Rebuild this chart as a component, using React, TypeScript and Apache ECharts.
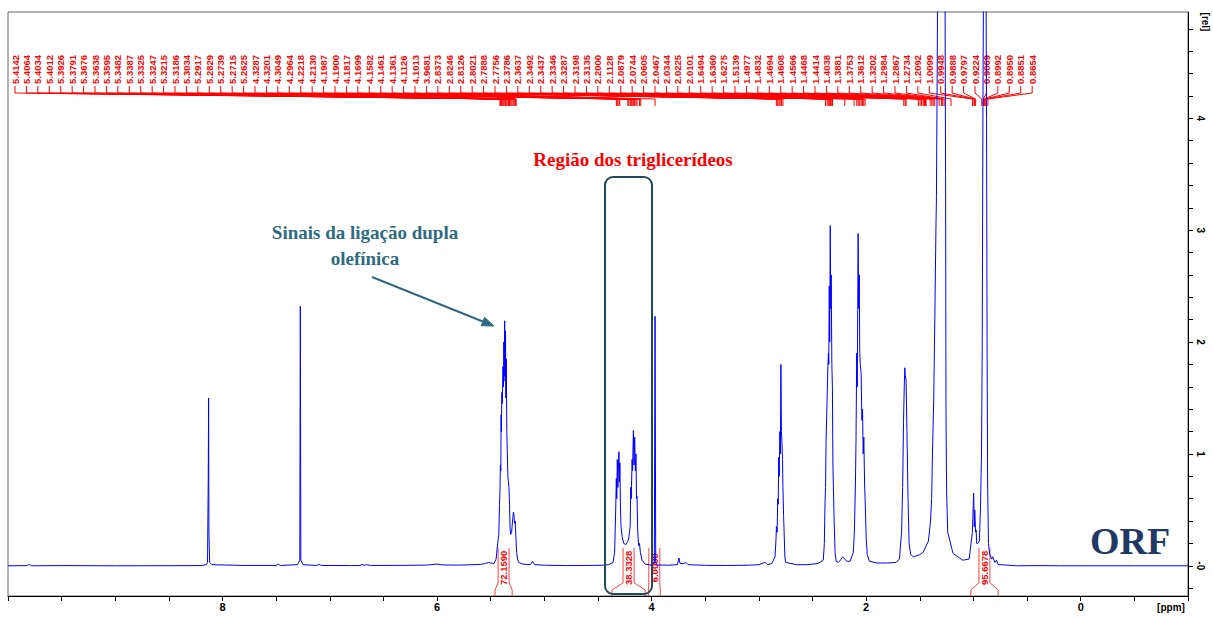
import React, { useEffect, useRef } from 'react';
import * as echarts from 'echarts';

// ---- axis ticks ----
const X_TICK_LABELS = [0, 2, 4, 6, 8];
const Y_TICKS = [-0.2, 0, 0.2, 0.4, 0.6, 0.8, 1, 1.2, 1.4, 1.6, 1.8, 2, 2.2, 2.4, 2.6, 2.8, 3, 3.2, 3.4, 3.6, 3.8, 4, 4.2, 4.4, 4.6, 4.8];
const Y_TICK_LABELS = [0, 1, 2, 3, 4];

// ---- peak picking list (ppm) ----
const PEAK_LIST = [
  5.4142, 5.4064, 5.4034, 5.4012, 5.3926, 5.3791, 5.3676, 5.3638, 5.3595, 5.3482,
  5.3387, 5.3325, 5.3247, 5.3215, 5.3186, 5.3034, 5.2917, 5.2829, 5.2739, 5.2715,
  5.2625, 4.3287, 4.3201, 4.3049, 4.2964, 4.2218, 4.2130, 4.1987, 4.1900, 4.1817,
  4.1699, 4.1582, 4.1461, 4.1361, 4.1126, 4.1013, 3.9681, 2.8373, 2.8246, 2.8126,
  2.8021, 2.7888, 2.7756, 2.3786, 2.3637, 2.3492, 2.3437, 2.3346, 2.3287, 2.3198,
  2.3135, 2.2000, 2.1128, 2.0879, 2.0744, 2.0605, 2.0467, 2.0344, 2.0225, 2.0101,
  1.6494, 1.6360, 1.6275, 1.5139, 1.4977, 1.4832, 1.4694, 1.4608, 1.4566, 1.4468,
  1.4414, 1.4038, 1.3881, 1.3753, 1.3612, 1.3202, 1.2984, 1.2867, 1.2734, 1.2092,
  1.0099, 0.9948, 0.9888, 0.9797, 0.9224, 0.9069, 0.8992, 0.8950, 0.8851, 0.8654,
];

// ---- integrals ----
const INTEGRAL_FROM = [5.46, 4.37, 4.03, 1.025];
const INTEGRAL_TO = [5.30, 4.06, 3.92, 0.77];
const INTEGRAL_VALUES = ['72.1590', '38.3328', '6.0000', '95.6678'];

// ---- spectrum [ppm, rel. intensity] ----
const SPECTRUM: [number, number][] = [
  [10.0, 0], [9.82, 0.002], [9.80, 0.012], [9.78, 0.0], [9.5, 0.002], [9.0, 0.0], [8.5, 0.001], [8.2, 0.002],
  [8.15, 0.01], [8.14, 0.03], [8.133, 0.8], [8.13, 1.5], [8.127, 0.3], [8.12, 0.03], [8.10, 0.01],
  [7.8, 0.003], [7.5, 0.003], [7.48, 0.015], [7.46, 0.003], [7.3, 0.01], [7.28, 0.05], [7.275, 2.32],
  [7.27, 0.05], [7.25, 0.01], [7.12, 0.003], [7.10, 0.014], [7.08, 0.003], [6.8, 0.002],
  [6.72, 0.002], [6.70, 0.012], [6.68, 0.004], [6.66, 0.01], [6.62, 0.003], [6.3, 0.004], [6.1, 0.006],
  [6.0, 0.015], [5.95, 0.008], [5.8, 0.006], [5.6, 0.012], [5.55, 0.02], [5.52, 0.03], [5.50, 0.025],
  [5.47, 0.02], [5.45, 0.06], [5.435, 0.2], [5.425, 0.28], [5.418, 0.55], [5.414, 0.65], [5.41, 0.9],
  [5.406, 0.85], [5.403, 1.35], [5.401, 1.2], [5.396, 1.55], [5.392, 1.45], [5.386, 1.78], [5.381, 1.6],
  [5.378, 2.0], [5.374, 1.7], [5.370, 2.19], [5.366, 1.65], [5.362, 2.1], [5.359, 1.5], [5.355, 1.85],
  [5.35, 1.2], [5.345, 1.0], [5.34, 0.8], [5.335, 0.75], [5.33, 0.7], [5.325, 0.55], [5.32, 0.35],
  [5.315, 0.28], [5.305, 0.3], [5.295, 0.42], [5.288, 0.48], [5.283, 0.45], [5.278, 0.38], [5.272, 0.4],
  [5.265, 0.25], [5.258, 0.12], [5.25, 0.06], [5.24, 0.03], [5.2, 0.015], [5.13, 0.01], [5.11, 0.04],
  [5.09, 0.01], [5.0, 0.005], [4.8, 0.002], [4.6, 0.003], [4.45, 0.005], [4.4, 0.01], [4.36, 0.03],
  [4.345, 0.12], [4.335, 0.5], [4.329, 0.78], [4.325, 0.6], [4.320, 0.95], [4.315, 0.7], [4.305, 1.02],
  [4.300, 0.75], [4.296, 0.92], [4.29, 0.5], [4.285, 0.35], [4.275, 0.26], [4.26, 0.2], [4.24, 0.19],
  [4.222, 0.22], [4.213, 0.25], [4.2, 0.35], [4.195, 0.7], [4.19, 0.6], [4.182, 0.95], [4.178, 0.85],
  [4.17, 1.21], [4.164, 0.9], [4.158, 1.15], [4.152, 0.85], [4.146, 1.0], [4.141, 0.6], [4.136, 0.62],
  [4.13, 0.3], [4.12, 0.18], [4.113, 0.2], [4.105, 0.12], [4.09, 0.05], [4.06, 0.015], [4.02, 0.008],
  [3.99, 0.008], [3.975, 0.03], [3.968, 2.23], [3.962, 0.03], [3.95, 0.008], [3.85, 0.005], [3.76, 0.01],
  [3.745, 0.07], [3.735, 0.02], [3.70, 0.02], [3.68, 0.03], [3.66, 0.01], [3.5, 0.004], [3.3, 0.003],
  [3.1, 0.005], [3.0, 0.01], [2.96, 0.025], [2.94, 0.03], [2.92, 0.01], [2.88, 0.02], [2.85, 0.08],
  [2.84, 0.25], [2.837, 0.35], [2.83, 0.3], [2.825, 0.6], [2.82, 0.55], [2.815, 0.97], [2.81, 0.8],
  [2.805, 1.2], [2.80, 1.0], [2.795, 1.8], [2.79, 1.2], [2.785, 1.1], [2.78, 0.95], [2.776, 0.7],
  [2.77, 0.45], [2.765, 0.3], [2.758, 0.08], [2.75, 0.03], [2.65, 0.01], [2.55, 0.01], [2.45, 0.02],
  [2.40, 0.05], [2.39, 0.2], [2.385, 0.5], [2.379, 0.7], [2.374, 1.1], [2.368, 1.35], [2.364, 1.5],
  [2.358, 1.75], [2.352, 1.9], [2.349, 1.8], [2.344, 2.5], [2.34, 2.0], [2.335, 3.04], [2.33, 2.3],
  [2.326, 2.6], [2.32, 1.8], [2.315, 1.6], [2.31, 0.9], [2.30, 0.45], [2.29, 0.12], [2.28, 0.04],
  [2.26, 0.03], [2.24, 0.05], [2.22, 0.08], [2.20, 0.06], [2.18, 0.04], [2.15, 0.04], [2.12, 0.12],
  [2.11, 0.3], [2.10, 0.75], [2.095, 1.1], [2.088, 1.9], [2.083, 1.6], [2.075, 2.97], [2.07, 2.3],
  [2.064, 2.6], [2.06, 1.9], [2.055, 1.8], [2.047, 1.72], [2.04, 1.3], [2.034, 1.4], [2.028, 1.0],
  [2.022, 1.15], [2.015, 0.74], [2.01, 0.6], [2.0, 0.25], [1.99, 0.1], [1.97, 0.04], [1.9, 0.025],
  [1.8, 0.025], [1.72, 0.03], [1.69, 0.06], [1.67, 0.3], [1.66, 0.7], [1.652, 1.28], [1.645, 1.6],
  [1.64, 1.77], [1.635, 1.7], [1.628, 1.66], [1.62, 1.2], [1.61, 0.6], [1.60, 0.2], [1.585, 0.1],
  [1.56, 0.08], [1.53, 0.09], [1.50, 0.1], [1.47, 0.12], [1.44, 0.18], [1.42, 0.22], [1.40, 0.4],
  [1.39, 0.6], [1.38, 1.1], [1.37, 1.5], [1.36, 2.22], [1.35, 3.0], [1.345, 3.3], [1.338, 4.4],
  [1.333, 5.4], [1.32, 7.5], [1.30, 9.0], [1.28, 7.0], [1.265, 5.2], [1.26, 3.5], [1.256, 1.37],
  [1.25, 0.65], [1.24, 0.3], [1.19, 0.11], [1.10, 0.05], [1.04, 0.06], [1.01, 0.3], [1.005, 0.45],
  [0.998, 0.65], [0.992, 0.35], [0.988, 0.5], [0.98, 0.3], [0.975, 0.32], [0.97, 0.2], [0.96, 0.2],
  [0.945, 0.22], [0.935, 0.5], [0.925, 1.0], [0.918, 2.0], [0.912, 4.0], [0.905, 5.5], [0.90, 6.5],
  [0.895, 7.0], [0.889, 6.6], [0.884, 5.5], [0.878, 4.0], [0.873, 2.0], [0.868, 0.74], [0.86, 0.2],
  [0.85, 0.11], [0.83, 0.06], [0.82, 0.08], [0.80, 0.03], [0.785, 0.05], [0.77, 0.01], [0.74, 0.01],
  [0.6, 0.0], [0.4, 0.002], [0.2, 0.0], [0.0, 0.0], [-0.5, 0.0], [-1.0, 0.0],
];

const RED = '#ff0000';
const BLUE = '#0000ff';
const TEAL = '#2f6b80';

export default function App() {
  const ref = useRef<HTMLDivElement>(null);

  useEffect(() => {
    if (!ref.current) return;
    const chart = echarts.init(ref.current, undefined, { renderer: 'svg' });

    const peakData = PEAK_LIST.map((p, i) => [p, 0, i]);
    const integralData = INTEGRAL_FROM.map((f, i) => [f, 0, INTEGRAL_TO[i], i]);

    const option: any = {
      animation: false,
      backgroundColor: '#ffffff',
      grid: {
        left: 8, right: 25, top: 12, bottom: 23,
        show: true, borderColor: '#666', borderWidth: 1, backgroundColor: 'transparent',
      },
      xAxis: {
        type: 'value', min: -1, max: 10, interval: 0.5, inverse: true,
        axisLine: { show: true, onZero: false, lineStyle: { color: '#000', width: 1 } },
        axisTick: { show: true, length: 5, lineStyle: { color: '#000' } },
        axisLabel: {
          customValues: X_TICK_LABELS, color: '#000', fontWeight: 'bold', fontSize: 11,
          fontFamily: '"Liberation Sans", Arial, sans-serif', margin: 5,
        },
        splitLine: { show: false },
      },
      yAxis: {
        type: 'value', position: 'right', min: -0.27, max: 4.95,
        axisLine: { show: true, onZero: false, lineStyle: { color: '#000', width: 1 } },
        axisTick: { show: true, customValues: Y_TICKS, length: 5, lineStyle: { color: '#000' } },
        axisLabel: {
          customValues: Y_TICK_LABELS, rotate: -90, color: '#000', fontWeight: 'bold', fontSize: 10,
          fontFamily: '"Liberation Sans", Arial, sans-serif', margin: 7,
          formatter: (v: number) => (v === 0 ? '-0' : String(v)),
        },
        splitLine: { show: false },
      },
      series: [
        {
          type: 'line',
          data: SPECTRUM,
          showSymbol: false,
          symbol: 'none',
          clip: true,
          z: 5,
          lineStyle: { color: BLUE, width: 1 },
          silent: true,
        },
        {
          type: 'custom',
          data: peakData,
          encode: { x: 0, y: 1 },
          z: 2,
          silent: true,
          renderItem: (params: any, api: any) => {
            const ppm = api.value(0);
            const idx = api.value(2);
            const px = api.coord([ppm, 0])[0];
            const cs = params.coordSys;
            const step = (cs.width * 0.862) / (PEAK_LIST.length - 1);
            const lx = cs.x + 7 + idx * step;
            return {
              type: 'group',
              children: [
                {
                  type: 'text', x: lx, y: 84, rotation: Math.PI / 2,
                  style: {
                    text: ppm.toFixed(4), fill: RED, align: 'left', verticalAlign: 'middle',
                    font: 'bold 9.5px "Liberation Sans", Arial, sans-serif',
                  },
                },
                {
                  type: 'polyline',
                  shape: { points: [[lx, 86], [lx, 93], [px, 99], [px, 106]] },
                  style: { stroke: RED, lineWidth: 1, fill: null },
                },
              ],
            };
          },
        },
        {
          type: 'custom',
          data: integralData,
          encode: { x: 0, y: 1 },
          z: 3,
          silent: true,
          renderItem: (params: any, api: any) => {
            const fx = api.coord([api.value(0), 0])[0];
            const tx = api.coord([api.value(2), 0])[0];
            const base = api.coord([0, 0])[1];
            const cs = params.coordSys;
            const bottom = cs.y + cs.height;
            const mid = (fx + tx) / 2;
            const hw = 5.5;
            return {
              type: 'group',
              children: [
                {
                  type: 'polyline',
                  shape: { points: [[fx, bottom], [fx, bottom - 6], [mid - hw, base + 17], [mid - hw, base - 18]] },
                  style: { stroke: '#ff4040', lineWidth: 1, fill: null },
                },
                {
                  type: 'polyline',
                  shape: { points: [[tx, bottom], [tx, bottom - 6], [mid + hw, base + 17], [mid + hw, base - 18]] },
                  style: { stroke: '#ff4040', lineWidth: 1, fill: null },
                },
                {
                  type: 'text', x: mid, y: base + 2, rotation: Math.PI / 2,
                  style: {
                    text: INTEGRAL_VALUES[api.value(3)], fill: RED, align: 'center', verticalAlign: 'middle',
                    font: 'bold 9.5px "Liberation Sans", Arial, sans-serif',
                  },
                },
              ],
            };
          },
        },
      ],
      graphic: [
        {
          type: 'text', x: 633, y: 159, z: 20,
          style: {
            text: 'Região dos triglicerídeos', fill: RED, align: 'center', verticalAlign: 'middle',
            font: 'bold 19px "Liberation Serif", "Times New Roman", serif',
          },
        },
        {
          type: 'text', x: 365, y: 232, z: 20,
          style: {
            text: 'Sinais da ligação dupla', fill: TEAL, align: 'center', verticalAlign: 'middle',
            font: 'bold 19px "Liberation Serif", "Times New Roman", serif',
          },
        },
        {
          type: 'text', x: 365, y: 258, z: 20,
          style: {
            text: 'olefínica', fill: TEAL, align: 'center', verticalAlign: 'middle',
            font: 'bold 19px "Liberation Serif", "Times New Roman", serif',
          },
        },
        {
          type: 'line', z: 20,
          shape: { x1: 372, y1: 277, x2: 484, y2: 322 },
          style: { stroke: TEAL, lineWidth: 2 },
        },
        {
          type: 'polygon', z: 20,
          shape: { points: [[494, 326], [481.2, 325.7], [484.6, 317.3]] },
          style: { fill: TEAL, stroke: TEAL, lineWidth: 1 },
        },
        {
          type: 'rect', z: 20,
          shape: { x: 605, y: 177, width: 47, height: 417, r: 8 },
          style: { fill: 'none', stroke: '#1f4a58', lineWidth: 2 },
        },
        {
          type: 'text', x: 1130, y: 541, z: 20,
          style: {
            text: 'ORF', fill: '#1f3864', align: 'center', verticalAlign: 'middle',
            font: 'bold 38px "Liberation Serif", "Times New Roman", serif',
          },
        },
        {
          type: 'text', x: 1171, y: 607, z: 20,
          style: {
            text: '[ppm]', fill: '#000', align: 'center', verticalAlign: 'middle',
            font: 'bold 10px "Liberation Sans", Arial, sans-serif',
          },
        },
        {
          type: 'text', x: 1205, y: 22, z: 20, rotation: -Math.PI / 2,
          style: {
            text: '[rel]', fill: '#000', align: 'center', verticalAlign: 'middle',
            font: 'bold 10px "Liberation Sans", Arial, sans-serif',
          },
        },
      ],
    };

    chart.setOption(option);
    return () => {
      chart.dispose();
    };
  }, []);

  return (
    <div
      ref={ref}
      style={{ position: 'fixed', left: 0, top: 0, width: 1213, height: 619, background: '#fff' }}
    />
  );
}
